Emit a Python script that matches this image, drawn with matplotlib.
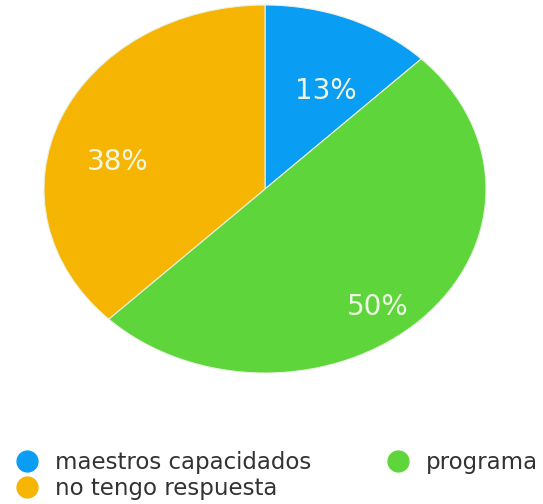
import matplotlib.pyplot as plt
from matplotlib.lines import Line2D

# datos
categorias = ['maestros capacidados', 'programa', 'no tengo respuesta']
valores = [1, 4, 3]
colores = ['#0a9df4', '#5ed63b', '#f6b502']

plt.rcParams['font.family'] = ['DejaVu Sans']

fig = plt.figure(figsize=(5.43, 5.04), dpi=100)
ax = fig.add_axes([44 / 543, 1 - 373 / 504, 442 / 543, 368 / 504])

wedges, texts, autotexts = ax.pie(
    valores, colors=colores, startangle=90, counterclock=False,
    autopct=lambda p: f'{int(p + 0.5)}%', pctdistance=0.72,
    wedgeprops={'edgecolor': '#e8f0e0', 'linewidth': 0.8},
    textprops={'color': '#eef6e6', 'fontsize': 20})
ax.set_aspect('auto')
ax.set_xlim(-1, 1)
ax.set_ylim(-1, 1)

# las etiquetas van un poco más abajo en el original
for t in autotexts:
    x, y = t.get_position()
    t.set_position((x, y - 0.13))

# leyenda: columna 1 azul y naranja, columna 2 verde
orden = [0, 2, 1]
handles = [Line2D([], [], marker='o', linestyle='', markersize=15,
                  markerfacecolor=colores[i], markeredgecolor=colores[i])
           for i in orden]
fig.legend(handles, [categorias[i] for i in orden], ncol=2,
           loc='upper left', bbox_to_anchor=(13 / 543, 1 - 451 / 504),
           frameon=False, fontsize=16.5, labelcolor='#333333',
           handletextpad=0.65, columnspacing=3.15, labelspacing=0.12,
           handlelength=1.2, borderaxespad=0, borderpad=0)

fig.savefig('out.png', dpi=100)
